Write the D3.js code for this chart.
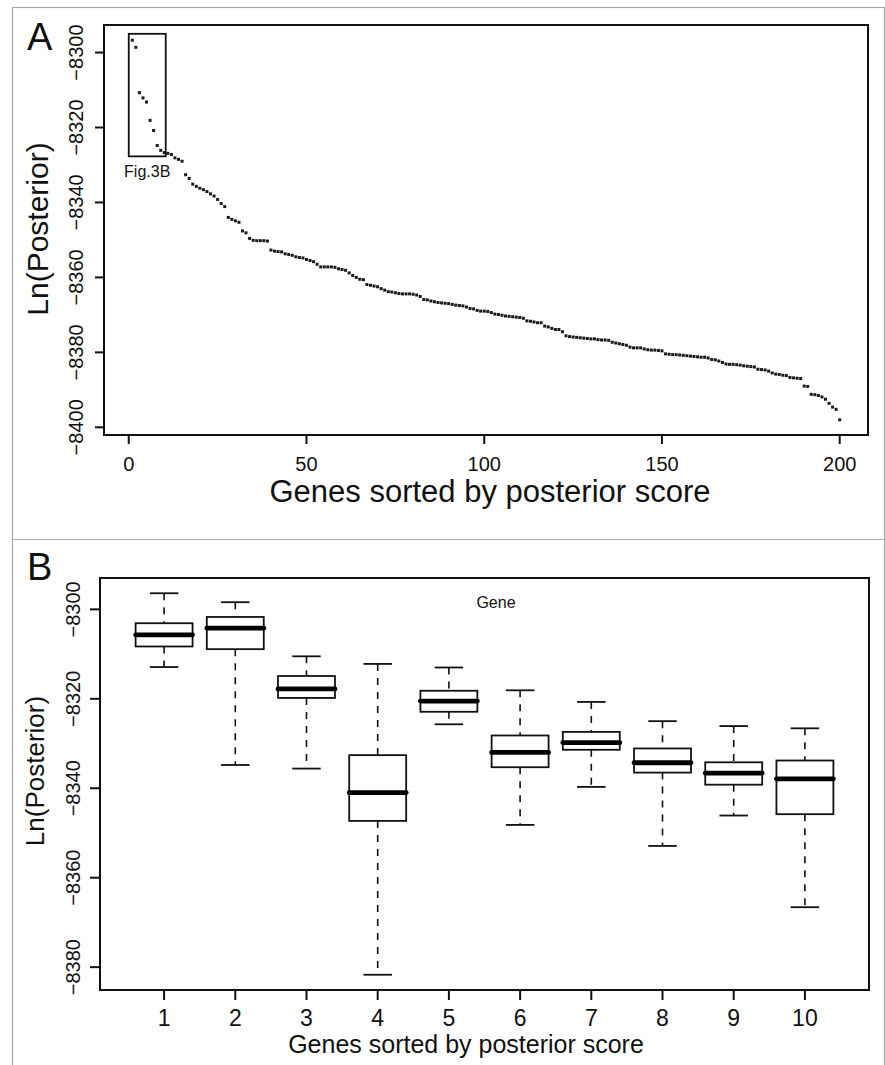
<!DOCTYPE html>
<html>
<head>
<meta charset="utf-8">
<script src="https://cdn.jsdelivr.net/npm/d3@7"></script>
<style>
  body { margin: 0; background: #fff; }
  svg { display: block; font-family: "Liberation Sans", Arial, sans-serif; }
</style>
</head>
<body>
<svg id="chart" width="885" height="1065"></svg>
<script>
// panel A: ln posterior of the top 200 genes, already sorted
const posterior = [
  -8296.7, -8298.6, -8310.7, -8312.1, -8313.2, -8318.1, -8320.8, -8324.8, -8326.1, -8326.7,
  -8326.9, -8327.2, -8328.1, -8328.5, -8329.0, -8332.6, -8333.6, -8335.1, -8335.7, -8336.2,
  -8336.6, -8337.1, -8337.7, -8338.3, -8339.2, -8340.3, -8341.1, -8344.0, -8344.5, -8344.9,
  -8345.3, -8347.6, -8348.1, -8349.6, -8350.1, -8350.2, -8350.2, -8350.2, -8350.3, -8352.7,
  -8353.0, -8353.1, -8353.2, -8353.7, -8353.9, -8354.1, -8354.5, -8354.7, -8354.8, -8355.2,
  -8355.5, -8355.8, -8356.5, -8357.2, -8357.2, -8357.2, -8357.2, -8357.3, -8357.7, -8357.9,
  -8358.1, -8358.8, -8359.5, -8360.0, -8360.5, -8360.6, -8361.9, -8362.1, -8362.3, -8362.5,
  -8363.0, -8363.4, -8363.8, -8363.9, -8364.1, -8364.3, -8364.4, -8364.4, -8364.4, -8364.5,
  -8364.7, -8365.1, -8365.9, -8366.0, -8366.3, -8366.5, -8366.7, -8366.8, -8366.9, -8367.0,
  -8367.2, -8367.4, -8367.5, -8367.6, -8367.9, -8368.3, -8368.4, -8368.8, -8369.0, -8369.0,
  -8369.1, -8369.4, -8369.8, -8369.9, -8370.1, -8370.3, -8370.4, -8370.5, -8370.6, -8370.7,
  -8370.9, -8371.6, -8371.7, -8371.9, -8372.1, -8372.1, -8373.0, -8373.2, -8373.6, -8373.9,
  -8373.9, -8374.5, -8375.6, -8375.8, -8375.9, -8376.0, -8376.1, -8376.2, -8376.3, -8376.4,
  -8376.4, -8376.6, -8376.7, -8376.7, -8376.8, -8377.3, -8377.5, -8377.7, -8377.9, -8378.1,
  -8378.6, -8378.8, -8378.8, -8378.8, -8379.1, -8379.3, -8379.4, -8379.4, -8379.5, -8379.6,
  -8380.4, -8380.5, -8380.6, -8380.6, -8380.7, -8380.8, -8380.9, -8381.0, -8381.1, -8381.2,
  -8381.3, -8381.3, -8381.5, -8381.9, -8382.0, -8382.3, -8382.7, -8383.1, -8383.2, -8383.2,
  -8383.3, -8383.4, -8383.6, -8383.7, -8383.8, -8383.9, -8384.5, -8384.6, -8384.7, -8385.0,
  -8385.5, -8385.8, -8385.9, -8386.1, -8386.2, -8386.7, -8386.8, -8386.9, -8387.0, -8389.0,
  -8389.1, -8391.2, -8391.3, -8391.5, -8391.9, -8392.5, -8393.6, -8394.6, -8395.2, -8398.0
]
// rectangle marking the genes shown in panel B
const zoomBoxX = [0, 10.4]
const zoomBoxY = [-8327.7, -8295.0]

// panel B: box plot stats of the top 10 genes
const genes = [1, 2, 3, 4, 5, 6, 7, 8, 9, 10]
const whiskerHi = [-8296.4, -8298.4, -8310.5, -8312.2, -8313.0, -8318.1, -8320.7, -8325.0, -8326.1, -8326.6]
const q3 = [-8303.1, -8301.7, -8314.9, -8332.6, -8318.2, -8328.2, -8327.4, -8331.1, -8334.2, -8333.8]
const median = [-8305.7, -8304.2, -8317.8, -8341.0, -8320.5, -8332.0, -8329.8, -8334.3, -8336.6, -8337.9]
const q1 = [-8308.3, -8308.9, -8319.8, -8347.3, -8322.9, -8335.3, -8331.4, -8336.5, -8339.2, -8345.8]
const whiskerLo = [-8312.9, -8334.8, -8335.6, -8381.7, -8325.7, -8348.2, -8339.7, -8352.9, -8346.1, -8366.6]

const ticksAx = [0, 50, 100, 150, 200]
const ticksAy = [-8400, -8380, -8360, -8340, -8320, -8300]
const ticksBy = [-8380, -8360, -8340, -8320, -8300]

const svg = d3.select("#chart")
const fmt = d => String(d).replace("-", "\u2212")

// R style 4% padding of the data range
function pad(lo, hi) {
  const d = (hi - lo) * 0.04
  return [lo - d, hi + d]
}

// outer grey frames of the two panels
svg.append("rect").attr("x", 12.5).attr("y", 7.5).attr("width", 872).attr("height", 1070)
  .attr("fill", "none").attr("stroke", "#a8a8a8").attr("stroke-width", 1.2)
svg.append("line").attr("x1", 12).attr("x2", 885).attr("y1", 539.5).attr("y2", 539.5)
  .attr("stroke", "#a8a8a8").attr("stroke-width", 1.2)

function drawAxes(g, x, y, xTicks, yTicks, o) {
  const [x0, x1] = x.range()
  const [y1, y0] = y.range()
  // x axis: line spans first to last tick, like R
  g.append("line").attr("x1", x(xTicks[0])).attr("x2", x(xTicks[xTicks.length - 1]))
    .attr("y1", y1).attr("y2", y1).attr("stroke", "#111").attr("stroke-width", 2)
  g.selectAll(".xt").data(xTicks).join("line")
    .attr("x1", d => x(d)).attr("x2", d => x(d))
    .attr("y1", y1).attr("y2", y1 + o.tick)
    .attr("stroke", "#111").attr("stroke-width", 2)
  g.selectAll(".xl").data(xTicks).join("text")
    .attr("x", d => x(d)).attr("y", o.xLabY)
    .attr("text-anchor", "middle").attr("font-size", o.xTickFont).attr("fill", "#111")
    .text(d => d)
  g.selectAll(".yt").data(yTicks).join("line")
    .attr("x1", x0 - o.tick).attr("x2", x0)
    .attr("y1", d => y(d)).attr("y2", d => y(d))
    .attr("stroke", "#111").attr("stroke-width", 2)
  g.selectAll(".yl").data(yTicks).join("text")
    .attr("transform", d => `translate(${o.yLabX},${y(d)}) rotate(-90)`)
    .attr("text-anchor", "middle").attr("font-size", o.yTickFont).attr("fill", "#111")
    .text(fmt)
  // plot frame
  g.append("rect").attr("x", x0).attr("y", y0).attr("width", x1 - x0).attr("height", y1 - y0)
    .attr("fill", "none").attr("stroke", "#111").attr("stroke-width", 2)
  g.append("text").attr("x", o.xTitleX).attr("y", o.xTitleY)
    .attr("text-anchor", "middle").attr("font-size", o.xTitleFont).attr("fill", "#111")
    .text("Genes sorted by posterior score")
  g.append("text")
    .attr("transform", `translate(${o.yTitleX},${o.yTitleY}) rotate(-90)`)
    .attr("text-anchor", "middle").attr("font-size", o.yTitleFont).attr("fill", "#111")
    .text("Ln(Posterior)")
  g.append("text").attr("x", o.letterX).attr("y", o.letterY)
    .attr("font-size", 38).attr("fill", "#111").text(o.letter)
}

// ---------- panel A ----------
const gA = svg.append("g")
const xA = d3.scaleLinear().domain(pad(1, posterior.length)).range([104, 868])
const yA = d3.scaleLinear().domain(pad(d3.min(posterior), d3.max(posterior))).range([435, 25])

drawAxes(gA, xA, yA, ticksAx, ticksAy, {
  tick: 9, xTickFont: 20, yTickFont: 20, xLabY: 471, yLabX: 83,
  xTitleFont: 31, yTitleFont: 30, xTitleX: 490, xTitleY: 502, yTitleX: 48, yTitleY: 229,
  letter: "A", letterX: 27, letterY: 50
})

gA.selectAll(".pt").data(posterior).join("rect")
  .attr("x", (d, i) => xA(i + 1) - 1.5).attr("y", d => yA(d) - 1.5)
  .attr("width", 3).attr("height", 3).attr("fill", "#1a1a1a")

gA.append("rect")
  .attr("x", xA(zoomBoxX[0])).attr("y", yA(zoomBoxY[1]))
  .attr("width", xA(zoomBoxX[1]) - xA(zoomBoxX[0]))
  .attr("height", yA(zoomBoxY[0]) - yA(zoomBoxY[1]))
  .attr("fill", "none").attr("stroke", "#111").attr("stroke-width", 1.8)
gA.append("text").attr("x", xA((zoomBoxX[0] + zoomBoxX[1]) / 2)).attr("y", yA(zoomBoxY[0]) + 21)
  .attr("text-anchor", "middle").attr("font-size", 16).attr("fill", "#111").text("Fig.3B")

// ---------- panel B ----------
const gB = svg.append("g")
const xB = d3.scaleLinear().domain(pad(0.5, genes.length + 0.5)).range([100, 869])
const yB = d3.scaleLinear().domain(pad(d3.min(whiskerLo), d3.max(whiskerHi))).range([990, 578])

drawAxes(gB, xB, yB, genes, ticksBy, {
  tick: 10, xTickFont: 23, yTickFont: 20, xLabY: 1026, yLabX: 80,
  xTitleFont: 25, yTitleFont: 26, xTitleX: 466, xTitleY: 1053, yTitleX: 44, yTitleY: 771,
  letter: "B", letterX: 27, letterY: 580
})

const boxW = xB(1.4) - xB(1)
const stats = genes.map((g, i) => ({
  g: g, hi: whiskerHi[i], q3: q3[i], med: median[i], q1: q1[i], lo: whiskerLo[i]
}))

const box = gB.selectAll(".box").data(stats).join("g")
// dashed whiskers
box.append("line").attr("x1", d => xB(d.g)).attr("x2", d => xB(d.g))
  .attr("y1", d => yB(d.hi)).attr("y2", d => yB(d.q3))
  .attr("stroke", "#111").attr("stroke-width", 1.6).attr("stroke-dasharray", "7,7")
box.append("line").attr("x1", d => xB(d.g)).attr("x2", d => xB(d.g))
  .attr("y1", d => yB(d.q1)).attr("y2", d => yB(d.lo))
  .attr("stroke", "#111").attr("stroke-width", 1.6).attr("stroke-dasharray", "7,7")
// staples
box.selectAll(".cap").data(d => [d.hi, d.lo].map(v => ({ g: d.g, v: v }))).join("line")
  .attr("x1", d => xB(d.g) - boxW / 2).attr("x2", d => xB(d.g) + boxW / 2)
  .attr("y1", d => yB(d.v)).attr("y2", d => yB(d.v))
  .attr("stroke", "#111").attr("stroke-width", 1.8)
box.append("rect")
  .attr("x", d => xB(d.g) - boxW).attr("y", d => yB(d.q3))
  .attr("width", boxW * 2).attr("height", d => yB(d.q1) - yB(d.q3))
  .attr("fill", "#fff").attr("stroke", "#111").attr("stroke-width", 1.8)
box.append("line")
  .attr("x1", d => xB(d.g) - boxW).attr("x2", d => xB(d.g) + boxW)
  .attr("y1", d => yB(d.med)).attr("y2", d => yB(d.med))
  .attr("stroke", "#000").attr("stroke-width", 4.8).attr("stroke-linecap", "round")

gB.append("text").attr("x", 496).attr("y", 608)
  .attr("text-anchor", "middle").attr("font-size", 16).attr("fill", "#111").text("Gene")
</script>
</body>
</html>
